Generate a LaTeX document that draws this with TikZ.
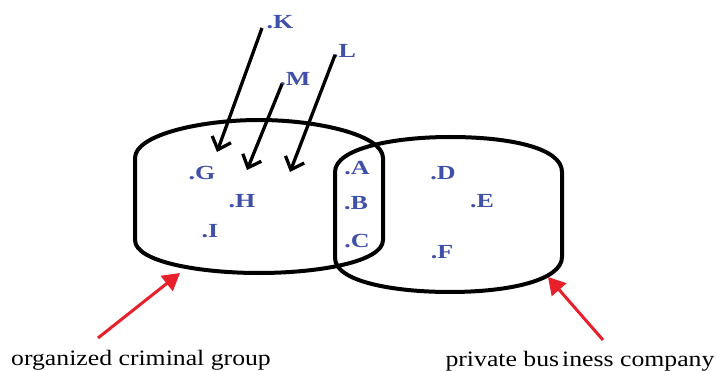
\documentclass[tikz,border=0pt]{standalone}
\usepackage{fontspec}
\setmainfont{Liberation Serif}
\newfontfamily\captfont[FakeStretch=1.17]{Liberation Serif}
\newfontfamily\ptfont[FakeStretch=1.3]{Liberation Serif}
\usetikzlibrary{arrows.meta}
\definecolor{lblue}{RGB}{64,80,168}
\definecolor{cred}{RGB}{232,32,44}
\tikzset{
  pt/.style={font=\ptfont\fontsize{20}{20}\selectfont\bfseries, text=lblue, inner sep=0pt},
  capt/.style={font=\captfont\fontsize{22}{22}\selectfont, inner sep=0pt, anchor=base},
  set/.style={line width=4pt},
  inarr/.style={line width=3.3pt, -{Straight Barb[length=11pt,width=20pt,line width=3.3pt]}},
  redarr/.style={line width=3pt, draw=cred, -{Triangle[length=17pt,width=19pt,fill=cred]}}
}
\begin{document}
\begin{tikzpicture}[x=1pt,y=-1pt]
\useasboundingbox (0,0) rectangle (717,371);
% sets
\draw[set] (135,240) -- (135,158) .. controls (135,135) and (200,120) .. (259,120)
  .. controls (318,120) and (383,135) .. (383,158) -- (383,240)
  .. controls (383,262) and (318,273) .. (259,273)
  .. controls (200,273) and (135,262) .. (135,240) -- cycle;
\draw[set] (335,258) -- (335,172) .. controls (335,148) and (395,137) .. (450,137)
  .. controls (510,137) and (562,148) .. (562,172) -- (562,257)
  .. controls (562,280) and (510,292) .. (450,292)
  .. controls (395,292) and (335,282) .. (335,258) -- cycle;
% points
\node[pt] (G) at (202,173) {.G};
\node[pt] (H) at (242,201) {.H};
\node[pt] (I) at (210,231) {.I};
\node[pt] (A) at (357,168) {.A};
\node[pt] (B) at (356,203) {.B};
\node[pt] (C) at (357,241) {.C};
\node[pt] (D) at (443,173) {.D};
\node[pt] (E) at (482,201) {.E};
\node[pt] (F) at (442,252) {.F};
\node[pt] (K) at (280,22) {.K};
\node[pt] (L) at (344,51) {.L};
\node[pt] (M) at (295,79) {.M};
% incoming arrows
\coordinate (ks) at (262,28);
\coordinate (kt) at (217,152);
\coordinate (ms) at (282,84);
\coordinate (mt) at (247,170);
\coordinate (ls) at (335,55);
\coordinate (lt) at (290,172);
\draw[inarr] (ks) -- (kt);
\draw[inarr] (ms) -- (mt);
\draw[inarr] (ls) -- (lt);
% captions
\node[capt] (og) at (141,365) {organized criminal group};
\node[capt] (pb) at (580,366) {private bus\kern3pt iness company};
\coordinate (ogs) at (98,338);
\coordinate (ogt) at (180,273);
\coordinate (pbs) at (603,340);
\coordinate (pbt) at (548,277);
\draw[redarr] (ogs) -- (ogt);
\draw[redarr] (pbs) -- (pbt);
\end{tikzpicture}
\end{document}
